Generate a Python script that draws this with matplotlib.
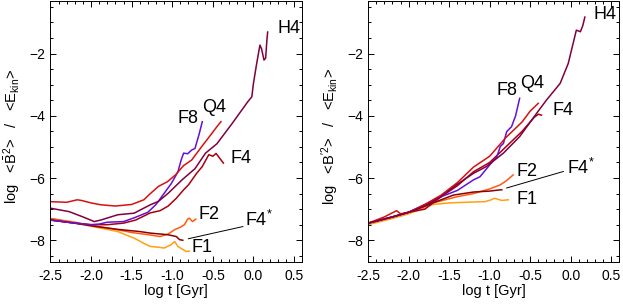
import matplotlib
matplotlib.use('Agg')
import matplotlib.pyplot as plt
from matplotlib.ticker import MultipleLocator

plt.rcParams['font.family'] = ['Liberation Sans', 'DejaVu Sans']
plt.rcParams['mathtext.fontset'] = 'custom'
plt.rcParams['mathtext.rm'] = 'Liberation Sans'
plt.rcParams['mathtext.it'] = 'Liberation Sans:italic'

# ============================
# DATA
# ============================

run_names = ['F1', 'F2', 'F4*', 'F4', 'F8', 'Q4', 'H4']
run_colors = ['#ffa010', '#ff5a10', '#8c0000', '#a80010', '#6410d8', '#d81010', '#800040']

# left panel: mean field
mean_x = {
    'F1': [-2.5, -2.3, -2.1, -1.9, -1.67, -1.55, -1.47, -1.35, -1.27, -1.18, -1.1, -1.02, -0.97, -0.93, -0.88, -0.83, -0.79],
    'F2': [-2.5, -2.2, -2.0, -1.7, -1.5, -1.3, -1.15, -1.05, -0.97, -0.9, -0.85, -0.81, -0.79, -0.75, -0.71],
    'F4*': [-2.5, -2.2, -1.96, -1.67, -1.4, -1.27, -1.06, -0.95, -0.91, -0.87],
    'F4': [-2.5, -2.2, -2.0, -1.8, -1.6, -1.45, -1.27, -1.15, -1.05, -0.95, -0.86, -0.8, -0.7, -0.63, -0.55, -0.5, -0.46, -0.42, -0.37],
    'F8': [-2.5, -2.2, -2.0, -1.9, -1.8, -1.6, -1.47, -1.3, -1.2, -1.13, -1.01, -0.93, -0.89, -0.86, -0.81, -0.76, -0.72, -0.67, -0.63],
    'Q4': [-2.5, -2.3, -2.17, -2.12, -2.0, -1.88, -1.7, -1.5, -1.35, -1.27, -1.17, -1.06, -0.96, -0.86, -0.76, -0.64, -0.51, -0.45, -0.4],
    'H4': [-2.5, -2.27, -2.1, -1.96, -1.88, -1.67, -1.47, -1.27, -1.17, -1.05, -0.88, -0.72, -0.59, -0.45, -0.26, -0.07, -0.02, 0.0, 0.04, 0.08, 0.1, 0.13, 0.15, 0.165, 0.175],
}
mean_y = {
    'F1': [-7.3, -7.4, -7.5, -7.6, -7.72, -7.85, -7.93, -8.1, -8.2, -8.22, -8.25, -8.15, -8.04, -8.2, -8.28, -8.36, -8.35],
    'F2': [-7.3, -7.42, -7.52, -7.65, -7.75, -7.82, -7.88, -7.8, -7.66, -7.58, -7.5, -7.32, -7.29, -7.4, -7.32],
    'F4*': [-7.35, -7.45, -7.55, -7.65, -7.72, -7.77, -7.82, -7.88, -7.98, -8.0],
    'F4': [-7.35, -7.45, -7.5, -7.5, -7.45, -7.35, -7.12, -7.05, -6.9, -6.65, -6.38, -6.22, -5.85, -5.63, -5.25, -5.3, -5.21, -5.35, -5.52],
    'F8': [-7.35, -7.45, -7.5, -7.48, -7.42, -7.4, -7.28, -7.1, -6.85, -6.6, -6.17, -5.8, -5.42, -5.2, -5.22, -5.1, -5.05, -4.6, -4.19],
    'Q4': [-6.76, -6.78, -6.7, -6.72, -6.8, -6.86, -6.9, -6.85, -6.7, -6.5, -6.27, -6.12, -5.9, -5.6, -5.42, -5.0, -4.56, -4.35, -4.19],
    'H4': [-6.97, -7.08, -7.25, -7.4, -7.35, -7.18, -7.13, -6.86, -6.75, -6.49, -6.06, -5.7, -5.2, -4.9, -4.24, -3.55, -3.39, -2.96, -2.32, -1.73, -1.85, -2.21, -2.15, -1.6, -1.31],
}

# right panel: fluctuating field
fluc_x = {
    'F1': [-2.5, -2.2, -2.0, -1.7, -1.5, -1.3, -1.06, -0.98, -0.94, -0.85, -0.77],
    'F2': [-2.5, -2.2, -2.0, -1.7, -1.4, -1.2, -1.0, -0.87, -0.8, -0.71],
    'F4*': [-2.5, -2.2, -2.0, -1.7, -1.45, -1.2, -1.0, -0.87, -0.85],
    'F4': [-2.5, -2.2, -2.0, -1.8, -1.6, -1.4, -1.2, -1.0, -0.8, -0.6, -0.45, -0.4, -0.36],
    'F8': [-2.5, -2.2, -2.0, -1.8, -1.6, -1.4, -1.2, -1.12, -1.0, -0.91, -0.87, -0.83, -0.79, -0.73, -0.68, -0.63],
    'Q4': [-2.5, -2.3, -2.15, -2.1, -2.0, -1.8, -1.6, -1.4, -1.2, -1.0, -0.8, -0.6, -0.5, -0.4],
    'H4': [-2.5, -2.2, -2.0, -1.8, -1.6, -1.4, -1.2, -1.04, -0.83, -0.63, -0.42, -0.3, -0.13, -0.03, 0.07, 0.12, 0.15, 0.175],
}
fluc_y = {
    'F1': [-7.5, -7.3, -7.15, -6.85, -6.8, -6.78, -6.76, -6.7, -6.65, -6.72, -6.7],
    'F2': [-7.45, -7.25, -7.1, -6.8, -6.6, -6.5, -6.35, -6.22, -6.1, -5.9],
    'F4*': [-7.45, -7.25, -7.1, -6.8, -6.55, -6.45, -6.42, -6.38, -6.38],
    'F4': [-7.45, -7.25, -7.1, -7.0, -6.6, -6.25, -5.8, -5.5, -5.0, -4.5, -4.05, -3.95, -3.98],
    'F8': [-7.45, -7.25, -7.1, -6.85, -6.6, -6.4, -6.06, -5.96, -5.58, -5.31, -4.99, -4.89, -4.51, -4.35, -4.0, -3.44],
    'Q4': [-7.45, -7.25, -7.05, -7.15, -7.1, -6.85, -6.55, -6.15, -5.65, -5.3, -4.7, -4.2, -3.85, -3.6],
    'H4': [-7.45, -7.25, -7.1, -6.9, -6.6, -6.2, -5.85, -5.63, -5.2, -4.67, -3.92, -3.5, -2.96, -2.32, -1.25, -1.3, -1.1, -0.83],
}

# label positions (data coords)
mean_labels = {'H4': (0.44, -1.19), 'Q4': (-0.49, -3.72), 'F8': (-0.8, -4.08), 'F4': (-0.15, -5.36),
               'F2': (-0.55, -7.18), 'F4*': (0.07, -7.34), 'F1': (-0.63, -8.24)}
fluc_labels = {'H4': (0.42, -0.74), 'Q4': (-0.48, -2.96), 'F8': (-0.79, -3.18), 'F4': (-0.1, -3.82),
               'F2': (-0.54, -5.79), 'F4*': (0.13, -5.67), 'F1': (-0.54, -6.7)}
mean_leader = ([-0.8, -0.13], [-7.95, -7.56])
fluc_leader = ([-0.79, -0.09], [-6.32, -5.79])

ylabels = [r'log   <$\bar{\rm B}^{2}$>   /   <E$_{\rm kin}$>',
           r'log   <B$^{\prime 2}$>   /   <E$_{\rm kin}$>']

# ============================
# FIGURE
# ============================

fig = plt.figure(figsize=(6.23, 3.04), dpi=100)
ax1 = fig.add_axes([0.081, 0.138, 0.404, 0.86])
ax2 = fig.add_axes([0.591, 0.138, 0.403, 0.86])

panels = [(ax1, mean_x, mean_y, mean_labels, mean_leader, ylabels[0]),
          (ax2, fluc_x, fluc_y, fluc_labels, fluc_leader, ylabels[1])]

for ax, xs, ys, labs, leader, ylab in panels:
    for name, col in zip(run_names, run_colors):
        ax.plot(xs[name], ys[name], color=col, lw=1.1)
    for name, (lx, ly) in labs.items():
        txt = r'F4$^{*}$' if name == 'F4*' else name
        ax.text(lx, ly, txt, fontsize=13, ha='center', va='center')
    ax.plot(leader[0], leader[1], color='black', lw=0.7)

    ax.set_xlim(-2.5, 0.6)
    ax.set_ylim(-8.7, -0.3)
    ax.xaxis.set_major_locator(MultipleLocator(0.5))
    ax.xaxis.set_minor_locator(MultipleLocator(0.1))
    ax.yaxis.set_minor_locator(MultipleLocator(0.5))
    ax.set_yticks([-8, -6, -4, -2])
    ax.xaxis.set_major_formatter(plt.FormatStrFormatter('%.1f'))
    ax.tick_params(which='both', direction='in', top=True, right=True, labelsize=10)
    ax.tick_params(which='major', length=4.5, width=0.7)
    ax.tick_params(which='minor', length=2.5, width=0.7)
    ax.tick_params(axis='x', pad=5)
    for sp in ax.spines.values():
        sp.set_linewidth(0.7)
    ax.set_xlabel('log t [Gyr]', fontsize=10.5, labelpad=1)
    ax.set_ylabel(ylab, fontsize=10.5)
    ax.yaxis.set_label_coords(-0.108, 0.48)

fig.savefig('out.png', dpi=100)
